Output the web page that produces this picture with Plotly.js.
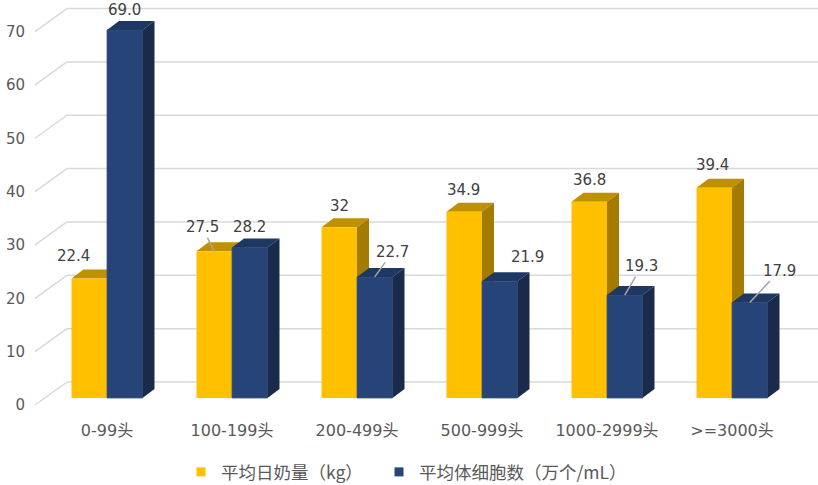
<!DOCTYPE html>
<html>
<head>
<meta charset="utf-8">
<script src="https://cdn.plot.ly/plotly-3.0.1.min.js"></script>
<style>html,body{margin:0;padding:0;background:#fff}</style>
</head>
<body>
<div id="chart" style="width:818px;height:485px"></div>
<script>
var categories = ['0-99头', '100-199头', '200-499头', '500-999头', '1000-2999头', '>=3000头'];
var milkYield = [22.4, 27.5, 32, 34.9, 36.8, 39.4];
var milkLabels = ['22.4', '27.5', '32', '34.9', '36.8', '39.4'];
var cellCount = [69.0, 28.2, 22.7, 21.9, 19.3, 17.9];
var cellLabels = ['69.0', '28.2', '22.7', '21.9', '19.3', '17.9'];
var yTicks = [0, 10, 20, 30, 40, 50, 60, 70];
var seriesNames = ['平均日奶量（kg）', '平均体细胞数（万个/mL）'];

// label placement (pixels from bar top centre: dx, dy up, leader line?)
var milkLabelPos = [[-16, 22.5, 0], [-12, 24, 1], [0, 21.3, 0], [-1, 22, 0], [0, 21.7, 0], [-2, 23, 0]];
var cellLabelPos = [[0, 20, 0], [0, 20.6, 0], [18, 25, 1], [28, 24, 0], [17, 29, 1], [30, 32, 1]];

var W = 818, H = 485, ML = 25, MB = 71;
var plotW = W - ML, plotH = H - MB;
var PX = 5.335;       // px per value unit
var UNIT = 125;       // px per category
var BW = 0.284;       // bar width, category units
var DX = 12, DY = 9;  // bar depth
var WALL = 16;        // back wall offset
var xDom0 = (67 - ML) / plotW;
var xr0 = -(107 - 67) / UNIT;
var xr1 = xr0 + (W - 67) / UNIT;
var yr0 = -(plotH - 398) / PX;
var yr1 = 398 / PX;
var FONT = "'DejaVu Sans', 'Noto Sans CJK SC', sans-serif";
var LEGEND_FONT = {family: "'Noto Sans CJK SC', sans-serif", size: 17.5, color: '#595959'};

var idx = categories.map(function (c, i) { return i; });
var gold = {front: '#FFC000', top: '#BF9000', side: '#A37B00'};
var navy = {front: '#264478', top: '#1F3763', side: '#1A2A4B'};

var traces = [
  {type: 'bar', x: idx, y: milkYield, offset: -BW, width: BW, marker: {color: gold.front, line: {width: 0}},
   showlegend: false, hoverinfo: 'skip'},
  {type: 'bar', x: idx, y: cellCount, offset: 0, width: BW,
   marker: {color: navy.front, line: {width: 0.8, color: '#3b5687'}},
   showlegend: false, hoverinfo: 'skip'},
  {type: 'scatter', mode: 'markers', x: [null], y: [null], name: seriesNames[0], legend: 'legend',
   marker: {symbol: 'square', size: 9, color: gold.front}},
  {type: 'scatter', mode: 'markers', x: [null], y: [null], name: seriesNames[1], legend: 'legend2',
   marker: {symbol: 'square', size: 9, color: navy.front}}
];

var shapes = [];
yTicks.forEach(function (t) {
  shapes.push({type: 'line', layer: 'below', xref: 'paper', yref: 'y', x0: xDom0, x1: 1,
    ysizemode: 'pixel', yanchor: t, y0: WALL, y1: WALL, line: {color: '#d9d9d9', width: 1.5}});
  shapes.push({type: 'line', layer: 'below', xref: 'paper', yref: 'y', xsizemode: 'pixel', xanchor: 0,
    x0: 10, x1: 42, ysizemode: 'pixel', yanchor: t, y0: -7, y1: WALL, line: {color: '#d9d9d9', width: 1.5}});
});

function box(xa, v, col, layer) {
  var w = BW * UNIT, h = v * PX;
  // top face, anchored at bar front-top right corner
  shapes.push({type: 'path', layer: layer, xref: 'x', yref: 'y', xsizemode: 'pixel', ysizemode: 'pixel',
    xanchor: xa, yanchor: v, line: {width: 0}, fillcolor: col.top,
    path: 'M' + (-w) + ',0 L0,0 L' + DX + ',' + DY + ' L' + (DX - w) + ',' + DY + ' Z'});
  // side face, anchored at base
  shapes.push({type: 'path', layer: layer, xref: 'x', yref: 'y', xsizemode: 'pixel', ysizemode: 'pixel',
    xanchor: xa, yanchor: 0, line: {width: 0}, fillcolor: col.side,
    path: 'M0,0 L' + DX + ',' + DY + ' L' + DX + ',' + (h + DY) + ' L0,' + h + ' Z'});
}
idx.forEach(function (i) {
  box(i, milkYield[i], gold, 'between');
  box(i + BW, cellCount[i], navy, 'above');
});

var annotations = [];
function addLabel(xc, v, txt, pos) {
  var a = {x: xc, y: v, xref: 'x', yref: 'y', text: txt,
    font: {family: FONT, size: 15, color: '#404040'}};
  if (pos[2]) {
    a.showarrow = true; a.ax = pos[0]; a.ay = -pos[1]; a.arrowhead = 0;
    a.arrowwidth = 1.5; a.arrowcolor = '#a6a6a6'; a.standoff = 0;
  } else {
    a.showarrow = false; a.xshift = pos[0]; a.yshift = pos[1];
    a.xanchor = 'center'; a.yanchor = 'middle';
  }
  annotations.push(a);
}
idx.forEach(function (i) {
  addLabel(i - BW / 2, milkYield[i], milkLabels[i], milkLabelPos[i]);
  addLabel(i + BW / 2, cellCount[i], cellLabels[i], cellLabelPos[i]);
});

var legendY = (plotH - 472) / plotH;
var layout = {
  width: W, height: H,
  margin: {l: ML, r: 0, t: 0, b: MB, autoexpand: false},
  paper_bgcolor: '#fff', plot_bgcolor: 'rgba(0,0,0,0)',
  barmode: 'overlay',
  font: {family: FONT, size: 15, color: '#595959'},
  xaxis: {domain: [xDom0, 1], range: [xr0, xr1], tickvals: idx, ticktext: categories,
    tickfont: {size: 16}, showgrid: false, zeroline: false, showline: false, ticks: '',
    ticklabelstandoff: 5, fixedrange: true},
  yaxis: {range: [yr0, yr1], tickvals: yTicks, anchor: 'free', position: 0, showgrid: false,
    zeroline: false, showline: false, ticks: '', ticklabelshift: 7, fixedrange: true},
  shapes: shapes,
  annotations: annotations,
  showlegend: true,
  legend: {orientation: 'h', x: (181 - ML) / plotW, xanchor: 'left', y: legendY, yanchor: 'middle',
    itemwidth: 30, font: LEGEND_FONT},
  legend2: {orientation: 'h', x: (379 - ML) / plotW, xanchor: 'left', y: legendY, yanchor: 'middle',
    itemwidth: 30, font: LEGEND_FONT}
};

Plotly.newPlot('chart', traces, layout, {displayModeBar: false, staticPlot: true});
</script>
</body>
</html>
